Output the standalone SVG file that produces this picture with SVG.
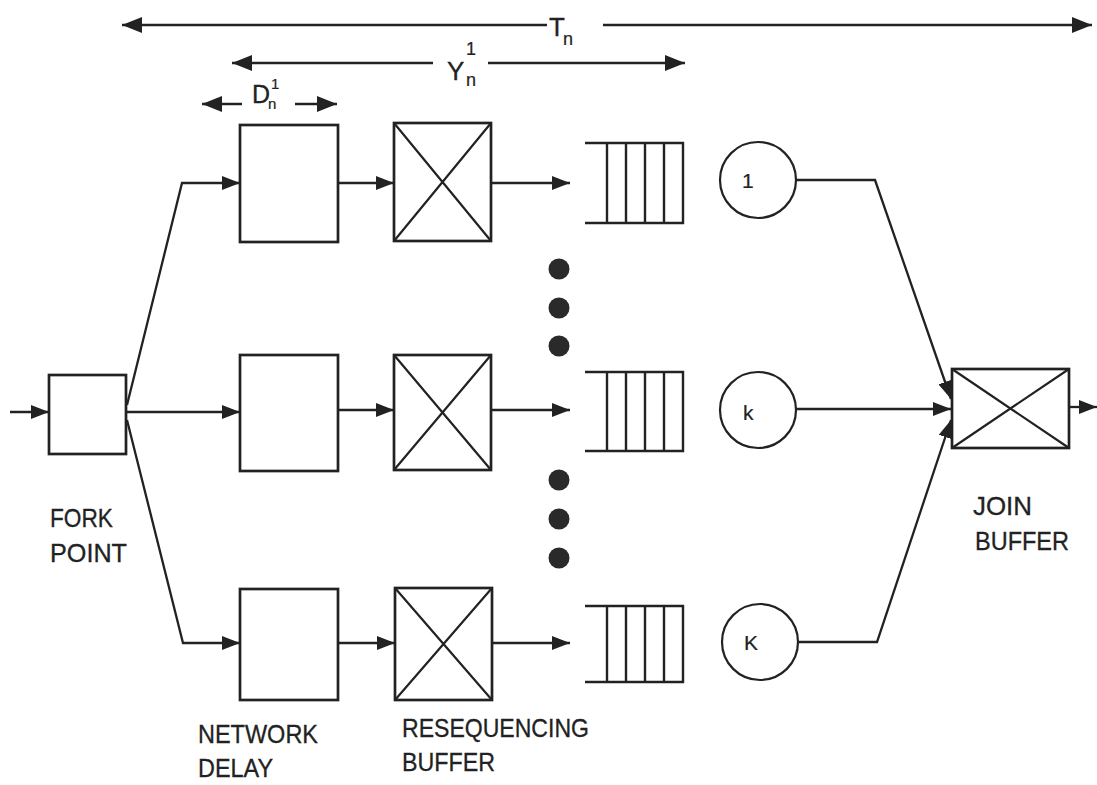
<svg xmlns="http://www.w3.org/2000/svg" width="1097" height="785" viewBox="0 0 1097 785">
<style>
.box{fill:#fff;stroke:#222;stroke-width:2.7}
.ln{fill:none;stroke:#222;stroke-width:2.3}
.x{stroke:#222;stroke-width:2.2}
.q{fill:none;stroke:#222;stroke-width:2.4}
.dot{fill:#2a2a2a}
.lbl{font-family:"Liberation Sans",Arial,sans-serif;font-size:26px;fill:#222;stroke:#222;stroke-width:0.3}
.sm{font-family:"Liberation Sans",Arial,sans-serif;font-size:18px;fill:#222;stroke:#222;stroke-width:0.2}
.cl{font-family:"Liberation Sans",Arial,sans-serif;font-size:21px;fill:#222;stroke:#222;stroke-width:0.2}
.dim{fill:none;stroke:#222;stroke-width:2.4}
</style>
<defs>
<marker id="ah" viewBox="0 0 18 14" refX="18" refY="7" markerWidth="18" markerHeight="14" markerUnits="userSpaceOnUse" orient="auto"><path d="M0,0 L18,7 L0,14 z" fill="#222"/></marker>
<marker id="big" viewBox="0 0 20 16" refX="20" refY="8" markerWidth="20" markerHeight="16" markerUnits="userSpaceOnUse" orient="auto-start-reverse"><path d="M0,0 L20,8 L0,16 z" fill="#222"/></marker>
</defs>
<rect width="1097" height="785" fill="#fff"/>

<g id="dimensions">
<path class="dim" d="M547,25 H122" marker-end="url(#big)"/>
<path class="dim" d="M603,25 H1092" marker-end="url(#big)"/>
<text class="lbl" x="549" y="36">T</text>
<text class="sm" x="563" y="45">n</text>
<path class="dim" d="M433,63 H232" marker-end="url(#big)"/>
<path class="dim" d="M488,63 H685" marker-end="url(#big)"/>
<text class="lbl" x="447" y="80">Y</text>
<text class="sm" x="466" y="55">1</text>
<text class="sm" x="466" y="86">n</text>
<path class="dim" d="M242,104 H202" marker-end="url(#big)"/>
<path class="dim" d="M295,104 H337" marker-end="url(#big)"/>
<text class="lbl" x="252" y="103" style="font-size:25px">D</text>
<text class="sm" x="268" y="109" style="font-size:15px">n</text>
<text class="sm" x="271" y="89" style="font-size:15px">1</text>
</g>

<g id="fork">
<rect class="box" x="49" y="375" width="77" height="79"/>
<text class="lbl" x="50" y="527" textLength="63" lengthAdjust="spacingAndGlyphs">FORK</text>
<text class="lbl" x="50" y="562" textLength="77" lengthAdjust="spacingAndGlyphs">POINT</text>
</g>

<g id="delay1"><rect class="box" x="240" y="125" width="98" height="117"/></g>
<g id="delay2"><rect class="box" x="240" y="355" width="98" height="116"/></g>
<g id="delay3"><rect class="box" x="240" y="589" width="98" height="111"/>
<text class="lbl" x="198" y="743" textLength="120" lengthAdjust="spacingAndGlyphs">NETWORK</text>
<text class="lbl" x="198" y="777" textLength="75" lengthAdjust="spacingAndGlyphs">DELAY</text>
</g>

<g id="reseq1"><rect class="box" x="394" y="123" width="97" height="118"/><path class="x" d="M394,123 L491,241 M491,123 L394,241"/></g>
<g id="reseq2"><rect class="box" x="394" y="355" width="97" height="115"/><path class="x" d="M394,355 L491,470 M491,355 L394,470"/></g>
<g id="reseq3"><rect class="box" x="395" y="588" width="97" height="112"/><path class="x" d="M395,588 L492,700 M492,588 L395,700"/>
<text class="lbl" x="402" y="737" textLength="187" lengthAdjust="spacingAndGlyphs">RESEQUENCING</text>
<text class="lbl" x="402" y="771" textLength="93" lengthAdjust="spacingAndGlyphs">BUFFER</text>
</g>

<g id="queue1"><path class="q" d="M585,143 H683 V223 H585 M607,143 V223 M626,143 V223 M645,143 V223 M664,143 V223"/></g>
<g id="queue2"><path class="q" d="M585,372 H683 V451 H585 M607,372 V451 M626,372 V451 M645,372 V451 M664,372 V451"/></g>
<g id="queue3"><path class="q" d="M585,606 H683 V682 H585 M607,606 V682 M626,606 V682 M645,606 V682 M664,606 V682"/></g>

<g id="dots">
<circle class="dot" cx="559" cy="269" r="10.5"/>
<circle class="dot" cx="559" cy="308" r="10.5"/>
<circle class="dot" cx="559" cy="346" r="10.5"/>
<circle class="dot" cx="559" cy="480" r="10.5"/>
<circle class="dot" cx="559" cy="519" r="10.5"/>
<circle class="dot" cx="559" cy="558" r="10.5"/>
</g>

<g id="server1"><circle class="box" cx="758" cy="180" r="38" style="stroke-width:2.2"/><text class="cl" x="742" y="188">1</text></g>
<g id="serverk"><circle class="box" cx="758" cy="410" r="38" style="stroke-width:2.2"/><text class="cl" x="743" y="420">k</text></g>
<g id="serverK"><circle class="box" cx="760" cy="642" r="38" style="stroke-width:2.2"/><text class="cl" x="744" y="650">K</text></g>

<g id="join">
<rect class="box" x="952" y="369" width="117" height="79"/>
<path class="x" d="M952,369 L1069,448 M1069,369 L952,448"/>
<text class="lbl" x="973" y="515" textLength="59" lengthAdjust="spacingAndGlyphs">JOIN</text>
<text class="lbl" x="975" y="550" textLength="94" lengthAdjust="spacingAndGlyphs">BUFFER</text>
</g>

<g id="connectors">
<path class="ln" d="M10,412 H49" marker-end="url(#ah)"/>
<path class="ln" d="M127,405 L182,183 H240" marker-end="url(#ah)"/>
<path class="ln" d="M127,412 H240" marker-end="url(#ah)"/>
<path class="ln" d="M127,420 L183,643 H240" marker-end="url(#ah)"/>
<path class="ln" d="M338,183 H394" marker-end="url(#ah)"/>
<path class="ln" d="M491,183 H570" marker-end="url(#ah)"/>
<path class="ln" d="M338,410 H394" marker-end="url(#ah)"/>
<path class="ln" d="M491,410 H570" marker-end="url(#ah)"/>
<path class="ln" d="M338,643 H395" marker-end="url(#ah)"/>
<path class="ln" d="M492,643 H570" marker-end="url(#ah)"/>
<path class="ln" d="M796,180 H875 L951,399" marker-end="url(#ah)"/>
<path class="ln" d="M796,409 H951" marker-end="url(#ah)"/>
<path class="ln" d="M798,642 H877 L951,420" marker-end="url(#ah)"/>
<path class="ln" d="M1069,407 H1097" marker-end="url(#ah)"/>
</g>
</svg>
